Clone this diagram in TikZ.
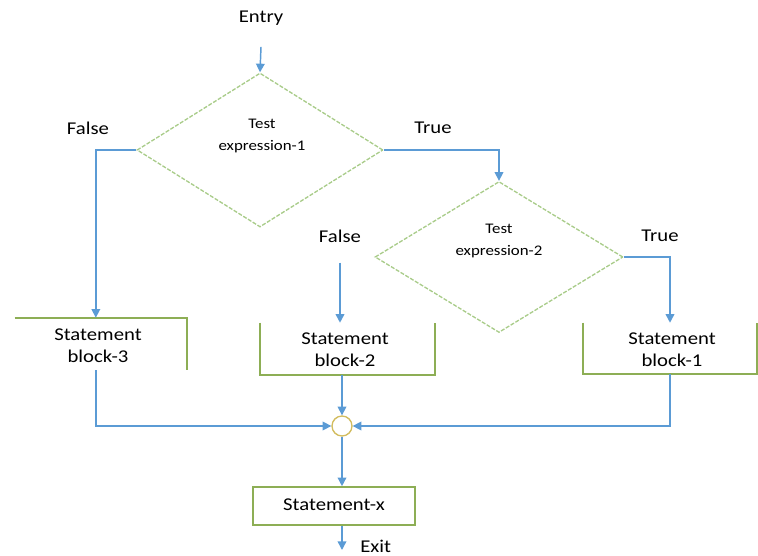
\documentclass[tikz,border=0pt]{standalone}
\usepackage{fontspec}
\setmainfont[FakeStretch=1.15]{Carlito}
\usetikzlibrary{arrows.meta,shapes.geometric,calc}
\definecolor{flowblue}{HTML}{5B9BD5}
\definecolor{boxgreen}{HTML}{8DAE55}
\definecolor{testgreen}{HTML}{A9CC8A}
\definecolor{joinring}{HTML}{D2BC5E}
\begin{document}
\begin{tikzpicture}[x=0.75pt,y=-0.75pt,
  flow/.style={draw=flowblue,line width=1.1pt,-{Triangle[length=6.5pt,width=6.5pt]}},
  boxline/.style={draw=boxgreen,line width=1.2pt,line join=miter},
  testbox/.style={diamond,draw=testgreen,line width=1pt,dash pattern=on 3pt off 1.2pt,inner sep=0pt},
  lbl/.style={font=\fontsize{13.5}{16}\selectfont,inner sep=0pt},
  testtxt/.style={font=\fontsize{11}{16}\selectfont,align=center,inner sep=0pt},
  blocktxt/.style={font=\fontsize{13.5}{16.5}\selectfont,align=center,inner sep=0pt},
  block/.style={inner sep=0pt}]
\useasboundingbox (0,0) rectangle (758,556);

% decisions
\node[testbox,minimum width=184.5pt,minimum height=115.5pt] (d1) at (260,150) {};
\node[testtxt] (t1) at (262,136) {Test\\expression-1};
\node[testbox,minimum width=186pt,minimum height=113.25pt] (d2) at (499,257) {};
\node[testtxt] (t2) at (499,241) {Test\\expression-2};

% labels
\node[lbl] (entry) at (261,18) {Entry};
\node[lbl] (f1) at (88,128) {False};
\node[lbl] (tr1) at (433,128) {True};
\node[lbl] (f2) at (340,236) {False};
\node[lbl] (tr2) at (660,236) {True};

% statement blocks
\node[block,minimum width=129pt,minimum height=39pt] (b3) at (101,344) {};
\node[blocktxt] (b3t) at (98,346) {Statement\\block-3};
\node[block,minimum width=131.25pt,minimum height=39pt] (b2) at (347.5,349) {};
\node[blocktxt] (b2t) at (345,350) {Statement\\block-2};
\node[block,minimum width=129.75pt,minimum height=38.25pt] (b1) at (670,348.5) {};
\node[blocktxt] (b1t) at (672,350) {Statement\\block-1};

\draw[boxline] (b3.north west) -- (b3.north east) -- (b3.south east);
\draw[boxline] (b2.north west) -- (b2.south west) -- (b2.south east) -- (b2.north east);
\draw[boxline] (b1.north west) -- (b1.south west) -- (b1.south east) -- (b1.north east);

% junction and final statement
\node[circle,draw=joinring,line width=1pt,minimum size=15pt,inner sep=0pt] (join) at (342,426) {};
\node[draw=boxgreen,line width=1.2pt,minimum width=121.5pt,minimum height=28.5pt,inner sep=0pt] (sx) at (334,506) {};
\node[blocktxt] (sxt) at (334,505) {Statement-x};
\coordinate (exitpt) at (342,550);
\node[lbl,anchor=west] (exit) at (360,546) {Exit};

% connectors
\coordinate (b3in) at ($(b3.north west)!0.47!(b3.north east)$);
\coordinate (b3out) at ($(b3.south west)!0.47!(b3.south east)$);
\draw[flow] ([yshift=-16pt]entry.south) -- (d1.north);
\draw[flow] (d1.west) -| (b3in);
\draw[flow] (d1.east) -| (d2.north);
\draw[flow] (d2.east) -| (b1.north);
\draw[flow] ([yshift=-15pt]f2.south) -- (f2.south |- b2.north);
\draw[flow] (b3out) |- (join.west);
\draw[flow] (b2.south -| join) -- (join.north);
\draw[flow] (b1.south) |- (join.east);
\draw[flow] (join.south) -- (join.south |- sx.north);
\draw[flow] (join.south |- sx.south) -- (exitpt);
\end{tikzpicture}
\end{document}
